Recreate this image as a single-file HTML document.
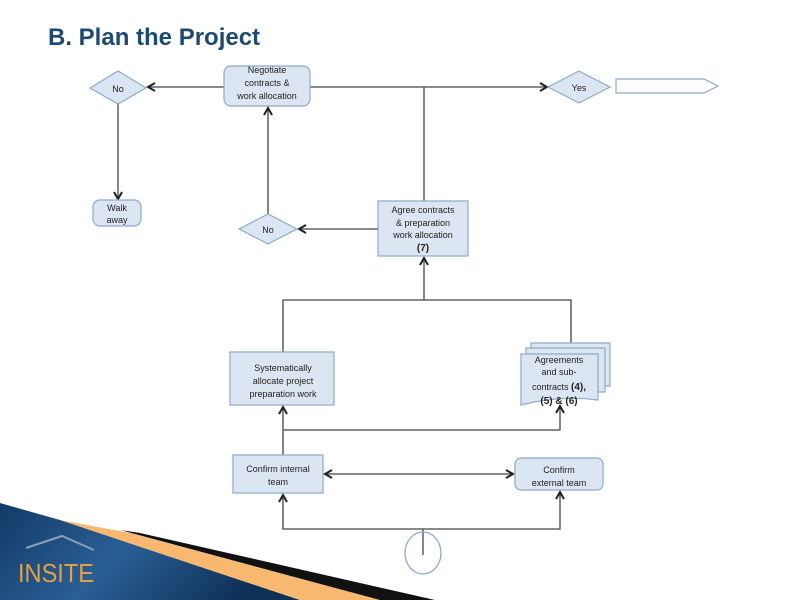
<!DOCTYPE html>
<html><head><meta charset="utf-8"><style>
html,body{margin:0;padding:0;background:#fff;width:800px;height:600px;overflow:hidden}
svg{display:block}
text{font-family:"Liberation Sans",sans-serif}
</style></head><body>
<svg width="800" height="600" viewBox="0 0 800 600">
<defs>
<marker id="a" markerWidth="10" markerHeight="10" refX="8" refY="5" orient="auto" markerUnits="userSpaceOnUse">
<path d="M1,1 L8,5 L1,9" fill="none" stroke="#222" stroke-width="2"/></marker>
<marker id="as" markerWidth="10" markerHeight="10" refX="2" refY="5" orient="auto" markerUnits="userSpaceOnUse">
<path d="M9,1 L2,5 L9,9" fill="none" stroke="#222" stroke-width="2"/></marker>
<linearGradient id="bl" x1="0" y1="0" x2="1" y2="0.3"><stop offset="0" stop-color="#123a66"/><stop offset="0.5" stop-color="#2a5f95"/><stop offset="1" stop-color="#0f3157"/></linearGradient>
</defs>
<text x="48" y="45" font-size="24" font-weight="bold" fill="#1d4a6e">B.  Plan the Project</text>
<g stroke="#444" stroke-width="1.3" fill="none">
<line x1="224" y1="87" x2="148" y2="87" marker-end="url(#a)"/>
<line x1="310" y1="87" x2="547" y2="87" marker-end="url(#a)"/>
<line x1="424" y1="87" x2="424" y2="201"/>
<line x1="378" y1="229" x2="299" y2="229" marker-end="url(#a)"/>
<line x1="268" y1="214" x2="268" y2="108" marker-end="url(#a)"/>
<line x1="118" y1="104" x2="118" y2="199" marker-end="url(#a)"/>
<line x1="424" y1="300" x2="424" y2="258" marker-end="url(#a)"/>
<polyline points="283,352 283,300 571,300 571,344"/>
<line x1="283" y1="455" x2="283" y2="407" marker-end="url(#a)"/>
<polyline points="283,430 560,430 560,406" marker-end="url(#a)"/>
<line x1="325" y1="474" x2="513" y2="474" marker-start="url(#as)" marker-end="url(#a)"/>
<polyline points="283,495 283,529 560,529 560,492"/>
<line x1="283" y1="500" x2="283" y2="495" marker-end="url(#a)"/>
<line x1="560" y1="497" x2="560" y2="492" marker-end="url(#a)"/>
<line x1="423" y1="529" x2="423" y2="555"/>
</g>
<g fill="#dce6f2" stroke="#8ea9c8" stroke-width="1.2">
<polygon points="90,88 118,71 146,88 118,104"/>
<rect x="224" y="66" width="86" height="40" rx="7"/>
<polygon points="548,87 579,71 610,87 579,103"/>
<rect x="93" y="200" width="48" height="26" rx="7"/>
<polygon points="239,229 268,214 297,229 268,244"/>
<rect x="378" y="201" width="90" height="55"/>
<rect x="230" y="352" width="104" height="53"/>
<rect x="531" y="343" width="79" height="43"/>
<rect x="526" y="348" width="79" height="44"/>
<path d="M521,354 H598 V400 Q560,395 521,405 Z"/>
<rect x="233" y="455" width="90" height="38"/>
<rect x="515" y="458" width="88" height="32" rx="6"/>
</g>
<polygon points="616,79 704,79 718,86 704,93 616,93" fill="#fff" stroke="#8ea9c8" stroke-width="1.2"/>
<ellipse cx="423" cy="553" rx="18" ry="21" fill="none" stroke="#8ea9c8" stroke-width="1.3"/>
<g font-size="9" fill="#222" text-anchor="middle">
<text x="118" y="92">No</text>
<text x="267" y="73">Negotiate</text><text x="267" y="86">contracts &amp;</text><text x="267" y="99">work allocation</text>
<text x="579" y="91">Yes</text>
<text x="117" y="211">Walk</text><text x="117" y="223">away</text>
<text x="268" y="233">No</text>
<text x="423" y="213">Agree contracts</text><text x="423" y="226">&amp; preparation</text><text x="423" y="238">work allocation</text>
<text x="423" y="251" font-weight="bold" font-size="10">(7)</text>
<text x="283" y="371">Systematically</text><text x="283" y="384">allocate project</text><text x="283" y="397">preparation work</text>
<text x="559" y="363">Agreements</text><text x="559" y="375">and sub-</text>
<text x="559" y="390">contracts <tspan font-weight="bold" font-size="10">(4),</tspan></text>
<text x="559" y="404" font-weight="bold" font-size="10">(5) &amp; (6)</text>
<text x="278" y="472">Confirm internal</text><text x="278" y="485">team</text>
<text x="559" y="473">Confirm</text><text x="559" y="486">external team</text>
</g>
<polygon points="0,503 0,600 300,600 60,520" fill="url(#bl)"/>
<polygon points="60,520 300,600 380,600 130,533" fill="#f8b870"/>
<polygon points="120,530 380,600 435,600 140,533" fill="#111"/>
<polyline points="26,548 62,536 94,550" fill="none" stroke="#8aa0b8" stroke-width="2"/>
<text x="18" y="582" font-size="26" fill="#e4a043" textLength="76" lengthAdjust="spacingAndGlyphs">INSITE</text>
</svg>
</body></html>
